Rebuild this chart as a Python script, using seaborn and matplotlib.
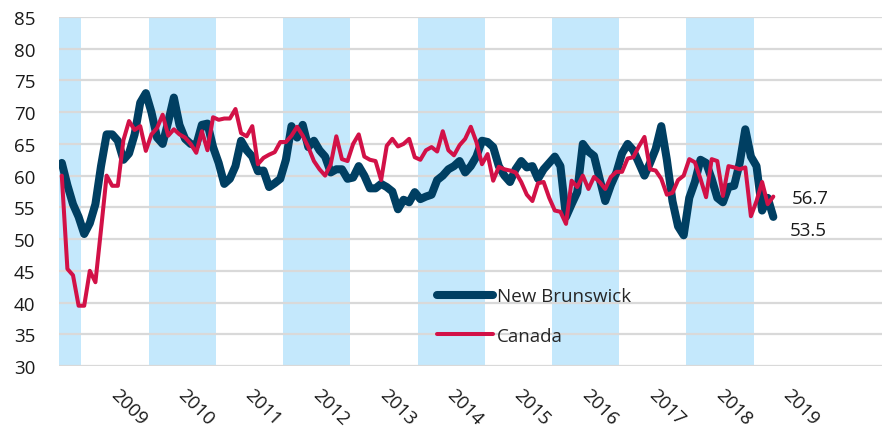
import matplotlib
matplotlib.use('Agg')
import matplotlib.pyplot as plt
import numpy as np
import pandas as pd
import seaborn as sns

# Monthly index values, Sep 2008 - Apr 2019
start_month = '2008-09-01'

new_brunswick = [
    62, 58.5, 55.5, 53.5,                                                    # 2008 Sep-Dec
    50.8, 52.5, 55.5, 61.5, 66.5, 66.5, 65.5, 62.5, 63.5, 66.5, 71.5, 73,    # 2009
    70, 66, 65, 68.5, 72.3, 68, 65.8, 65, 64.8, 68, 68.2, 64.5,              # 2010
    62, 58.7, 59.5, 61.5, 65.5, 64, 63, 60.7, 60.8, 58.2, 58.8, 59.5,        # 2011
    62.5, 67.8, 66, 68, 64.5, 65.5, 64, 63, 60.5, 61, 61, 59.5,              # 2012
    59.7, 61.5, 60, 58, 58, 58.7, 58.2, 57.5, 54.7, 56.2, 55.8, 57.4,        # 2013
    56.3, 56.7, 57, 59.3, 60, 61, 61.5, 62.3, 60.5, 61.5, 63, 65.5,          # 2014
    65.3, 64.5, 61.5, 60, 59, 61, 62.3, 61.3, 61.5, 59.5, 61, 62,            # 2015
    63, 61.5, 53.5, 55.5, 57.4, 65, 63.8, 63.1, 59.5, 56, 58.5, 60.5,        # 2016
    63.5, 65, 64, 62, 60, 62, 64.2, 67.8, 62.5, 56, 52, 50.6,                # 2017
    56.5, 59, 62.5, 62, 59.5, 56.5, 55.8, 58.2, 58.4, 62, 67.3, 63,          # 2018
    61.5, 54.5, 56.5, 53.5,                                                  # 2019 Jan-Apr
]

canada = [
    60, 45.3, 44.3, 39.5,                                                    # 2008 Sep-Dec
    39.5, 45, 43.2, 51.5, 60, 58.4, 58.4, 65.6, 68.6, 67.2, 67.8, 63.9,      # 2009
    66.5, 67.5, 69.6, 66.3, 67.3, 66.5, 66, 65, 63.6, 67, 64, 69.2,          # 2010
    68.8, 69, 69, 70.5, 66.7, 66.2, 67.8, 61.8, 62.8, 63.3, 63.7, 65.3,      # 2011
    65.3, 66.3, 67.7, 66.3, 64.5, 62.3, 61, 60, 61.8, 66.2, 62.6, 62.3,      # 2012
    65, 66.5, 63, 62.5, 62.3, 59.3, 64.7, 65.8, 64.6, 65, 65.8, 62.9,        # 2013
    62.5, 64, 64.5, 63.8, 67, 64, 63.2, 64.8, 65.8, 67.7, 65.3, 61.8,        # 2014
    63.4, 59.2, 61.4, 61, 60.8, 60.5, 59, 57, 56, 58.8, 59, 56.5,            # 2015
    54.5, 54.3, 52.4, 59.2, 58.2, 60, 57.9, 59.8, 59, 57.9, 59.8, 60.6,      # 2016
    60.6, 62.7, 62.9, 64.6, 66.1, 61, 60.8, 59.5, 57, 57.3, 59.3, 60,        # 2017
    62.6, 62.1, 59.5, 56.6, 62.6, 62.3, 56.8, 61.5, 61.3, 61, 61.3, 53.6,    # 2018
    56, 59, 55.5, 56.7,                                                      # 2019 Jan-Apr
]

year_labels = list(range(2009, 2020))
shaded_years = [2008, 2010, 2012, 2014, 2016, 2018]

nb_color = '#003f62'
ca_color = '#d21147'
band_color = '#c4e8fc'
grid_color = '#d9d9d9'

# Build a tidy frame with a fractional-year x (mid-month)
dates = pd.date_range(start_month, periods=len(new_brunswick), freq='MS')
xpos = dates.year + (dates.month - 0.5) / 12
df = pd.DataFrame({'x': xpos, 'New Brunswick': new_brunswick, 'Canada': canada})

sns.set_style('white')
plt.rcParams['font.family'] = ['Open Sans', 'DejaVu Sans']

fig, ax = plt.subplots(figsize=(8.82, 4.27), dpi=100)
fig.subplots_adjust(left=59 / 882, right=1.0, top=1 - 18 / 427, bottom=1 - 367 / 427)

x_min = 2008 + 8 / 12
x_max = 2020 + 10.9 / 12

# Alternating year bands
for yr in shaded_years:
    ax.axvspan(max(yr, x_min), yr + 1, color=band_color, lw=0, zorder=0)

# Horizontal gridlines
for v in range(30, 90, 5):
    ax.axhline(v, color=grid_color, lw=1.6, zorder=1)

sns.lineplot(data=df, x='x', y='New Brunswick', color=nb_color, lw=5.8,
             label='New Brunswick', ax=ax, zorder=3,
             solid_joinstyle='round', solid_capstyle='round')
sns.lineplot(data=df, x='x', y='Canada', color=ca_color, lw=2.9,
             label='Canada', ax=ax, zorder=4,
             solid_joinstyle='round', solid_capstyle='round')

ax.set_xlim(x_min, x_max)
ax.set_ylim(30, 85)
ax.set_yticks(range(30, 90, 5))
ax.set_xticks([y + 0.48 for y in year_labels])
ax.set_xticklabels([str(y) for y in year_labels], rotation=-45, ha='left',
                   va='center', rotation_mode='anchor')
ax.tick_params(axis='both', length=0, labelsize=13.5, colors='#1a1a1a')
ax.tick_params(axis='y', pad=17)
ax.tick_params(axis='x', pad=18)
ax.set_xlabel('')
ax.set_ylabel('')
for s in ax.spines.values():
    s.set_visible(False)

# End-of-series value labels
ax.text(2019.56, 56.5, f'{canada[-1]:.1f}', fontsize=13.5, va='center', ha='left', color='#1a1a1a')
ax.text(2019.53, 51.5, f'{new_brunswick[-1]:.1f}', fontsize=13.5, va='center', ha='left', color='#1a1a1a')

leg = ax.legend(loc='center left', bbox_to_anchor=((437 - 59) / 823, (367 - 317) / 349),
                frameon=False, fontsize=13.5, handlelength=3.0, handletextpad=0.2,
                labelspacing=1.15, borderpad=0, borderaxespad=0)
for line in leg.get_lines():
    line.set_solid_capstyle('round')

fig.savefig('out.png', dpi=100)
